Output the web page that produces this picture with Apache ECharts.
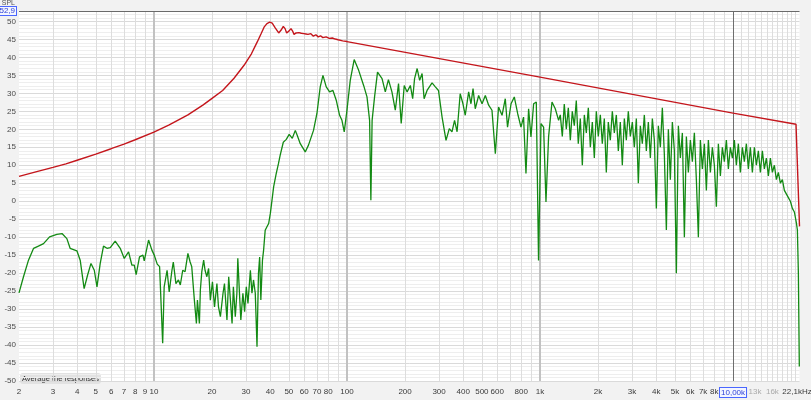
<!DOCTYPE html>
<html>
<head>
<meta charset="utf-8">
<script src="https://cdn.jsdelivr.net/npm/echarts@6/dist/echarts.min.js"></script>
<style>
html,body{margin:0;padding:0;background:#f2f2f2;}
#c{width:811px;height:400px;}
</style>
</head>
<body>
<div id="c"></div>
<script>
// ---- data (frequency in Hz, level in dB SPL) ----
const xLabelValues = [2,3,4,5,6,7,8,9,10,20,30,40,50,60,70,80,100,200,300,400,500,600,800,1000,2000,3000,4000,5000,6000,7000,8000,10000,13000,16000,22100];
const xGridValues = [3,4,5,6,7,8,9,20,30,40,50,60,70,80,90,200,300,400,500,600,700,800,900,2000,3000,4000,5000,6000,7000,8000,9000,11000,12000,13000,14000,15000,16000,17000,18000,19000,20000,21000];
const xDecadeValues = [10,100,1000];
const xCursorValues = [10000];

const redResponse = [[2,6.9],[2.5,8.3],[3,9.4],[3.5,10.4],[4,11.4],[5,13.1],[6,14.6],[7,15.9],[8,17.1],[10,19.2],[12,21.2],[15,24.0],[18,26.8],[20,28.6],[22.7,30.8],[26,34.2],[29.3,37.8],[32,41],[34.3,44.3],[36,46.7],[37.2,48.4],[38.5,49.4],[39.8,49.8],[41,49.5],[42.5,48.2],[44.3,46.8],[45.6,47.6],[46.8,48.6],[47.8,48.0],[48.7,46.8],[50,47.3],[51.3,48.0],[52.2,47.4],[53.2,46.4],[54.5,46.8],[55.7,47.3],[56.4,46.9],[57,46.4],[58,46.7],[59,47.0],[59.8,46.6],[60.5,46.2],[61.3,46.5],[62,46.8],[62.8,46.4],[63.5,46.1],[64.3,46.3],[65,46.6],[66,46.2],[67,45.9],[68,46.1],[69,46.3],[70,46.0],[71,45.7],[72,45.85],[73,46.0],[74,45.7],[75,45.5],[76.5,45.6],[78,45.7],[79.5,45.45],[81,45.3],[82.5,45.35],[84,45.4],[87,45.1],[90,44.9],[95,44.6],[100,44.4],[1000,34.5],[10000,24.5],[21200,21.4],[22100,-7]];

const greenLow = [[2.00,-25.5],[2.11,-21],[2.24,-16.4],[2.38,-13.1],[2.52,-12.5],[2.68,-11.8],[2.88,-9.9],[3.14,-9.2],[3.34,-9.0],[3.54,-10.4],[3.68,-13.1],[3.99,-13.8],[4.15,-16.4],[4.35,-24.3],[4.53,-20.6],[4.72,-17.3],[4.91,-19.2],[5.07,-23.8],[5.27,-17.3],[5.48,-12.5],[5.71,-13.1],[5.94,-12.9],[6.30,-11.1],[6.69,-13.1],[7.02,-15.9],[7.39,-14.1],[7.69,-17.8],[7.91,-17.8],[8.09,-20.4],[8.42,-15.5],[8.77,-15],[8.91,-16.6],[9.38,-10.8],[9.76,-13.6],[10.04,-15],[10.4,-17.5],[10.7,-18.2],[11.1,-39.5],[11.3,-23.8],[11.7,-19.2],[12.0,-25.2],[12.4,-19.2],[12.6,-16.9],[13.0,-22.9],[13.4,-21.9],[13.7,-23.3],[14.1,-19.2],[14.5,-19.6],[15.0,-14.5],[15.4,-16.9],[15.7,-18.2],[16.2,-27.5],[16.6,-34],[16.8,-27.5],[17.2,-34],[17.4,-24.7],[17.7,-19.6],[18.1,-16.4],[18.4,-19.2],[18.8,-21],[19.2,-18.7],[19.6,-27.5],[20.1,-22.4],[20.6,-29.4],[21.2,-22.9],[21.6,-29.4],[22.1,-32.1],[22.8,-25.6],[23.2,-22.9],[23.9,-33],[24.4,-21],[24.9,-27.5],[25.4,-34],[25.8,-23.8],[26.4,-32.1],[26.9,-25.6],[27.2,-15.9],[27.8,-26.6],[28.2,-33],[28.9,-25.6],[29.5,-30.7],[30.1,-23.8],[30.7,-28.4],[31.6,-19.2],[32.2,-25.6],[32.8,-21.9],[33.5,-25.6],[34.2,-40.5],[34.8,-20.1],[35.3,-15.5],[35.8,-27.5],[36.5,-16.4],[37.0,-13.6],[37.7,-8.1],[38.5,-7.1],[39.3,-6.2],[40.1,-3.4],[40.9,0.3],[41.7,4],[43.0,7.7],[44.2,10.5],[45.1,12.8],[46.8,16.4],[48.5,17.2],[50.2,18.6],[52.1,17.5],[54.0,19.7],[55.3,18.3],[57.3,16.0],[60.8,13.7],[63.2,15.6],[67.1,19.7],[69.9,24.4],[72.7,31.8],[75.1,35],[78.1,31.8],[81.3,30.4],[84.6,30.8],[88.0,28.1],[91.6,23.9],[94.2,22.5],[96.8,19.3],[100,25.3],[104,33.6],[109,39.4],[115,36.4],[122,32.2],[127,29],[131,22.5],[133,0.3],[135,22.5],[139,29],[144,35.9],[152,34.1],[158,30.4],[164,33.8],[171,30.4],[178,25.3],[185,32.7],[191,21.6],[198,32.2],[205,30.4],[213,32.2],[219,28.5],[224,34.1],[231,36.9],[238,33.6],[245,35.5],[251,28.5],[260,30.8],[276,32.9],[287,31.8],[298,30.8],[311,23.4],[326,16.9],[339,20.2],[350,19.3],[361,22.5],[372,19.3],[386,29.9],[399,27.1],[410,23.9],[427,30.4],[439,27.1],[450,31.3],[462,25.7],[481,29.4],[501,27.1],[521,29.4],[542,26.7],[564,25.3],[587,13.2],[610,26.2],[636,23.9],[661,28.5],[679,20.6],[708,27.1],[736,29],[766,24.4],[797,20.6],[822,23.4],[846,7.7],[873,25.7],[898,17.9],[927,27.1],[957,27.6],[983,-16.5],[1012,21.6],[1044,20.6],[1074,-0.2],[1108,17.9],[1154,27.6],[1200,25.7],[1249,22.5]];

const greenHigh = [[1274,24],[1305,18],[1336,27],[1369,20],[1402,26],[1436,17],[1470,25],[1506,21],[1542,28],[1579,16],[1618,23],[1657,10],[1697,24],[1738,19],[1780,26],[1823,15],[1867,22],[1912,12],[1958,25],[2005,18],[2054,24],[2103,16],[2154,23],[2206,8],[2259,22],[2314,17],[2370,25],[2427,19],[2486,24],[2546,14],[2607,22],[2670,10],[2735,23],[2801,17],[2868,25],[2938,18],[3009,22],[3081,15],[3156,23],[3232,5],[3310,21],[3390,16],[3472,24],[3556,14],[3642,22],[3730,12],[3820,23],[3912,17],[4007,-2],[4103,21],[4203,15],[4304,26],[4408,13],[4515,-8],[4624,20],[4735,6],[4850,22],[4967,14],[5087,-20],[5210,21],[5336,12],[5465,19],[5597,-10],[5732,18],[5870,8],[6012,17],[6157,11],[6306,19],[6458,6],[6614,-10],[6774,17],[6937,9],[7105,16],[7276,3],[7452,17],[7632,8],[7816,15],[8005,10],[8198,-1.5],[8396,16],[8599,7],[8806,15],[9019,11],[9237,17],[9460,9],[9688,15],[9922,12],[10162,17],[10407,10],[10658,16],[10916,8],[11179,15],[11449,11],[11726,16],[12009,9],[12299,15],[12596,8],[12900,15],[13211,10],[13530,14],[13857,8],[14192,14],[14534,9],[14885,12],[15245,7],[15613,12],[15990,8],[16376,10],[16771,6],[17176,8],[17591,5],[18016,6],[18451,3],[18896,3],[19353,1],[19820,0],[20299,-2],[20789,-3],[21291,-6],[21550,-8],[21805,-20],[22050,-46]];

const yMin = -50, yMax = 52.9, yStep = 5;
const xMin = 2, xMax = 22100;

function fmtHz(v){
  if (Math.abs(v-10000) < 1) return '{hl|10,00k}';
  if (Math.abs(v-13000) < 1) return '{lt|13k}';
  if (Math.abs(v-16000) < 1) return '{lt|16k}';
  if (Math.abs(v-22100) < 1) return '{end|22,1kHz}';
  if (v >= 1000) return (v/1000) + 'k';
  return String(v);
}

const chart = echarts.init(document.getElementById('c'), null, {renderer:'canvas'});
const font = 'Liberation Sans';
const fs = 8;
const gridAxis = (vals, color, width) => ({
  type:'log', min:xMin, max:xMax, logBase:10, gridIndex:0, position:'bottom',
  axisLine:{show:false}, axisLabel:{show:false},
  axisTick:{show:false, customValues:vals},
  splitLine:{show:true, lineStyle:{color:color, width:width}}
});

chart.setOption({
  animation:false,
  backgroundColor:'#f2f2f2',
  textStyle:{fontFamily:font},
  grid:{left:19, right:11.5, top:11, bottom:19, containLabel:false, outerBoundsMode:'none',
        show:true, backgroundColor:'#ffffff', borderWidth:0},
  xAxis:[
    {
      type:'log', min:xMin, max:xMax, logBase:10,
      axisLine:{show:false},
      axisTick:{show:false, customValues:xGridValues},
      splitLine:{show:true, lineStyle:{color:'#dddddd', width:1}},
      axisLabel:{
        customValues:xLabelValues, formatter:fmtHz, margin:7, hideOverlap:false,
        fontSize:fs, color:'#3a3a3a', fontFamily:font,
        rich:{
          hl:{fontSize:fs, color:'#2b3fd6', borderColor:'#4a66ff', borderWidth:1, backgroundColor:'#f4f6ff', padding:[1,1,0,1], fontFamily:font},
          lt:{fontSize:fs, color:'#aaaaaa', fontFamily:font},
          end:{fontSize:fs, color:'#3a3a3a', padding:[0,5,0,0], fontFamily:font}
        }
      }
    },
    gridAxis(xDecadeValues, '#c2c2c2', 2),
    gridAxis(xCursorValues, '#6e6e6e', 1)
  ],
  yAxis:{
    type:'value', min:yMin, max:yMax, interval:yStep,
    name:'SPL', nameLocation:'end', nameGap:3,
    nameTextStyle:{fontSize:7, color:'#555', align:'right', verticalAlign:'bottom', padding:[0,4,0,0], fontFamily:font},
    axisLine:{show:false}, axisTick:{show:false},
    axisLabel:{
      fontSize:fs, color:'#4a4a4a', margin:3, fontFamily:font, hideOverlap:false,
      formatter:v => (Math.abs(v-yMax) < 1e-6 ? '{hl|52,9}' : String(v)),
      rich:{hl:{fontSize:fs, color:'#2b3fd6', borderColor:'#4a66ff', borderWidth:1, backgroundColor:'#f4f6ff', padding:[0,1,0,1], fontFamily:font}}
    },
    splitLine:{lineStyle:{color:'#dadada'}},
    minorTick:{show:false, splitNumber:5},
    minorSplitLine:{show:true, lineStyle:{color:'#eeeeee'}}
  },
  series:[
    {
      type:'line', name:'Target', data:redResponse, showSymbol:false, symbol:'none',
      lineStyle:{color:'#c4161c', width:1.4}, z:3,
      markLine:{silent:true, symbol:'none', label:{show:false},
        lineStyle:{color:'#6a6a6a', width:1, type:'solid'}, data:[{yAxis:yMax}]}
    },
    {
      type:'line', name:'Average', data:greenLow.concat(greenHigh), showSymbol:false, symbol:'none',
      lineStyle:{color:'#138a13', width:1.3}, z:2
    }
  ],
  graphic:[{
    type:'text', left:20, top:373,
    style:{text:'Average the responses', fontSize:7.5, fill:'#333', fontFamily:font,
      backgroundColor:'#e2e2e2', padding:[2,2,1,2], borderRadius:3}
  }]
});
</script>
</body>
</html>
